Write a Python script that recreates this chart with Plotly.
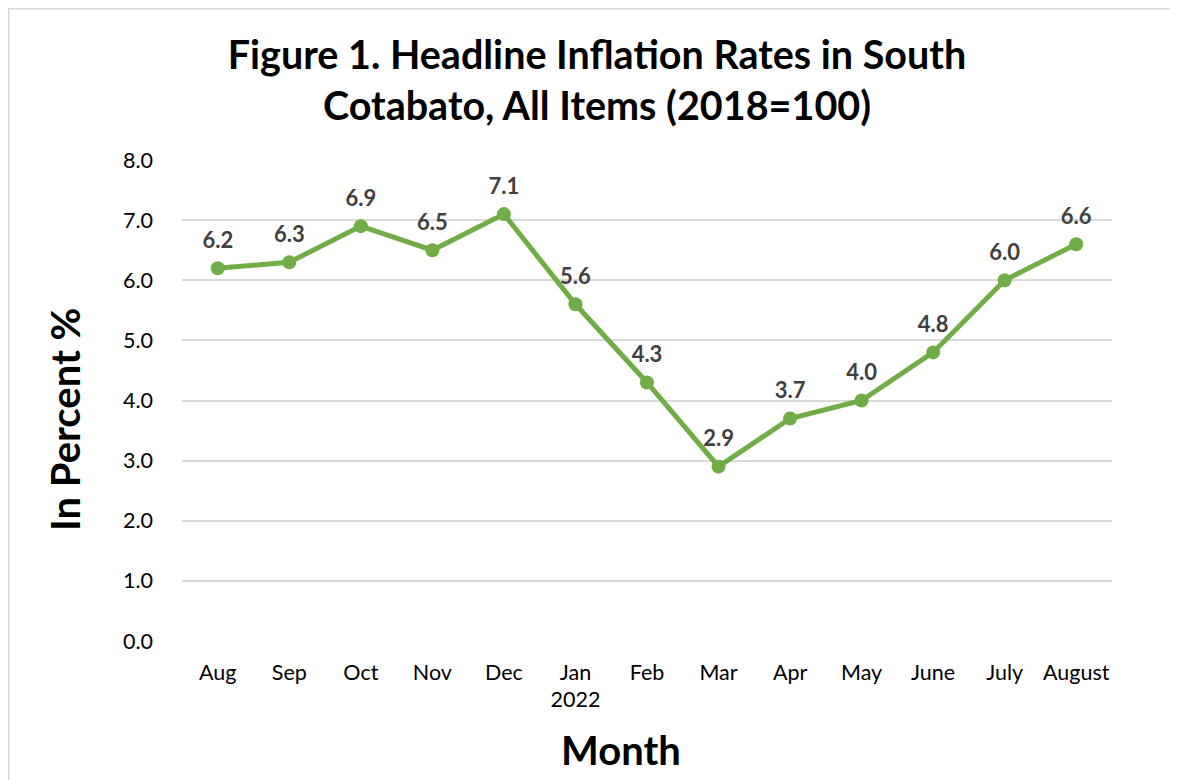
import plotly.graph_objects as go

months = ["Aug", "Sep", "Oct", "Nov", "Dec", "Jan<br>2022", "Feb", "Mar", "Apr", "May", "June", "July", "August"]
rates = [6.2, 6.3, 6.9, 6.5, 7.1, 5.6, 4.3, 2.9, 3.7, 4.0, 4.8, 6.0, 6.6]
y_ticks = [0, 1, 2, 3, 4, 5, 6, 7, 8]

# page body has an 8px margin, so the figure is drawn 8px in from the corner
W, H = 1170, 772
L, R, T, B = 174, 66, 152, 139
FONT = "Lato"

fig = go.Figure()
fig.add_trace(go.Scatter(
    x=list(range(len(months))), y=rates,
    mode="lines+markers",
    line=dict(color="#70AD47", width=5),
    marker=dict(color="#70AD47", size=14),
    hoverinfo="skip",
))
# data labels (invisible larger marker gives a bit more gap above the points)
fig.add_trace(go.Scatter(
    x=list(range(len(months))), y=rates,
    mode="markers+text",
    marker=dict(color="rgba(0,0,0,0)", size=22),
    text=[f"{v:.1f}" for v in rates],
    textposition="top center",
    textfont=dict(family=FONT, size=22, color="#404040", weight="bold"),
    cliponaxis=False,
    hoverinfo="skip",
))

pw = W - L - R
ph = H - T - B
def px_x(p):
    return (p - L) / pw
def px_y(p):
    return (H - B - p) / ph

fig.add_shape(type="rect", xref="paper", yref="paper",
              x0=px_x(0.8), x1=px_x(1164), y0=px_y(790), y1=px_y(0.8),
              line=dict(color="#D9D9D9", width=1.5), fillcolor="rgba(0,0,0,0)", layer="below")

fig.add_annotation(text="<b>In Percent %</b>", textangle=-90, showarrow=False,
                   xref="paper", yref="paper", x=px_x(57), y=px_y(412),
                   xanchor="center", yanchor="middle",
                   font=dict(family=FONT, size=40, color="black"))
fig.add_annotation(text="<b>Month</b>", showarrow=False,
                   xref="paper", yref="paper", x=px_x(613), y=px_y(742),
                   xanchor="center", yanchor="middle",
                   font=dict(family=FONT, size=40, color="black"))

fig.update_layout(
    width=W, height=H,
    margin=dict(l=L, r=R, t=T, b=B),
    paper_bgcolor="white", plot_bgcolor="white",
    showlegend=False,
    title=dict(text="<b>Figure 1. Headline Inflation Rates in South<br>Cotabato, All Items (2018=100)</b>",
               x=589 / W, xanchor="center", yref="container", y=1 - 61 / H, yanchor="middle",
               font=dict(family=FONT, size=39.5, color="black")),
    xaxis=dict(
        tickmode="array", tickvals=list(range(len(months))), ticktext=months,
        range=[-0.5, len(months) - 0.5],
        showgrid=False, showline=False, zeroline=False, ticks="",
        ticklabelstandoff=16,
        tickfont=dict(family=FONT, size=21.5, color="black"),
    ),
    yaxis=dict(
        range=[0, 8], tickmode="array", tickvals=y_ticks,
        ticktext=[f"{v:.1f}" for v in y_ticks],
        showgrid=True, gridcolor="#D9D9D9", gridwidth=1.5,
        zeroline=False, showline=False, ticks="",
        ticklabelstandoff=28,
        tickfont=dict(family=FONT, size=21.5, color="black"),
    ),
)

fig.write_html("out.html")
